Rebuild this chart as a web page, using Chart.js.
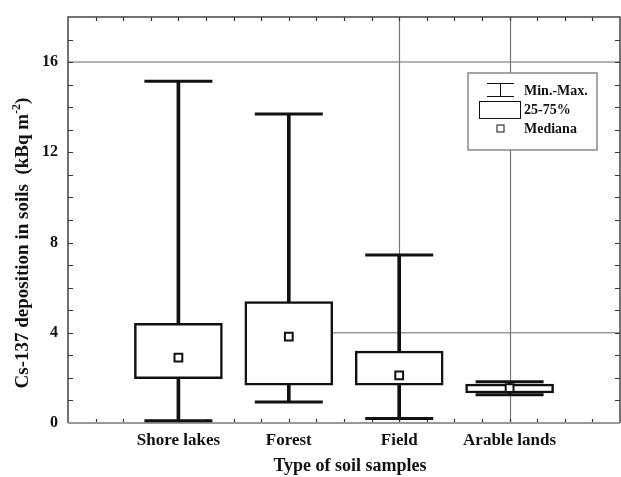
<!DOCTYPE html>
<html lang="en">
<head>
    <meta charset="UTF-8">
    <title>Cs-137 deposition in soils</title>
    <script src="https://cdn.jsdelivr.net/npm/chart.js"></script>
    <style>
        * { margin: 0; padding: 0; box-sizing: border-box; }
        html, body { width: 621px; height: 477px; background: #fff; overflow: hidden; }
        .chart-container { position: relative; width: 621px; height: 477px; }
    </style>
</head>
<body>
    <div class="chart-container">
        <canvas id="boxChart"></canvas>
    </div>

    <script>
        // data (kBq m-2)
        const categories = ['Shore lakes', 'Forest', 'Field', 'Arable lands'];
        const catPos = [1, 2, 3, 4];
        const minVals = [0.1, 0.93, 0.2, 1.25];
        const q1Vals = [1.97, 1.68, 1.68, 1.33];
        const medVals = [2.9, 3.83, 2.11, 1.55];
        const q3Vals = [4.42, 5.38, 3.19, 1.72];
        const maxVals = [15.15, 13.7, 7.45, 1.83];
        const yTickValues = [0, 4, 8, 12, 16];

        const serif = '"Liberation Serif", "Times New Roman", serif';
        const ink = '#111';

        // frame, inward ticks and the few grey guide lines
        const framePlugin = {
            id: 'frame',
            beforeDatasetsDraw(chart) {
                const { ctx, chartArea: a, scales: { x, y } } = chart;
                ctx.save();
                ctx.strokeStyle = '#9a9a9a';
                ctx.lineWidth = 1.5;
                ctx.beginPath();
                ctx.moveTo(a.left, y.getPixelForValue(16));
                ctx.lineTo(a.right, y.getPixelForValue(16));
                ctx.moveTo(x.getPixelForValue(2), y.getPixelForValue(4));
                ctx.lineTo(a.right, y.getPixelForValue(4));
                ctx.stroke();
                ctx.strokeStyle = '#777';
                ctx.lineWidth = 1.2;
                ctx.beginPath();
                [3, 4].forEach(v => {
                    const px = Math.round(x.getPixelForValue(v)) + 0.5;
                    ctx.moveTo(px, a.top);
                    ctx.lineTo(px, a.bottom);
                });
                ctx.stroke();

                // ticks
                ctx.strokeStyle = '#333';
                ctx.lineWidth = 1.2;
                ctx.beginPath();
                for (let v = 1; v < 18; v++) {
                    const py = Math.round(y.getPixelForValue(v)) + 0.5;
                    ctx.moveTo(a.left, py); ctx.lineTo(a.left + 5, py);
                    ctx.moveTo(a.right, py); ctx.lineTo(a.right - 5, py);
                }
                for (let v = 0.25; v < 5; v += 0.25) {
                    const px = Math.round(x.getPixelForValue(v)) + 0.5;
                    ctx.moveTo(px, a.top); ctx.lineTo(px, a.top + 4);
                    ctx.moveTo(px, a.bottom); ctx.lineTo(px, a.bottom - 4);
                }
                ctx.stroke();

                // border
                ctx.lineWidth = 1.5;
                ctx.strokeStyle = '#444';
                ctx.beginPath();
                ctx.moveTo(a.left, a.bottom);
                ctx.lineTo(a.left, a.top);
                ctx.lineTo(a.right, a.top);
                ctx.lineTo(a.right, a.bottom);
                ctx.stroke();
                ctx.strokeStyle = '#999';
                ctx.lineWidth = 2;
                ctx.beginPath();
                ctx.moveTo(a.left, a.bottom);
                ctx.lineTo(a.right, a.bottom);
                ctx.stroke();
                ctx.restore();
            },
            afterDraw(chart) {
                const { ctx } = chart;
                ctx.save();
                ctx.fillStyle = ink;

                // x title
                ctx.font = 'bold 18px ' + serif;
                ctx.textAlign = 'center';
                ctx.textBaseline = 'middle';
                ctx.fillText('Type of soil samples', 350, 466);

                // y title with superscript
                ctx.translate(23, 243);
                ctx.rotate(-Math.PI / 2);
                const main = 'Cs-137 deposition in soils  (kBq m';
                const sup = '-2';
                const close = ')';
                ctx.font = 'bold 19px ' + serif;
                const w1 = ctx.measureText(main).width;
                const w3 = ctx.measureText(close).width;
                ctx.font = 'bold 12px ' + serif;
                const w2 = ctx.measureText(sup).width;
                const sx = -(w1 + w2 + w3) / 2;
                ctx.textAlign = 'left';
                ctx.font = 'bold 19px ' + serif;
                ctx.fillText(main, sx, 0);
                ctx.font = 'bold 12px ' + serif;
                ctx.fillText(sup, sx + w1, -6);
                ctx.font = 'bold 19px ' + serif;
                ctx.fillText(close, sx + w1 + w2, 0);
                ctx.restore();

                // legend box
                ctx.save();
                ctx.fillStyle = '#fff';
                ctx.strokeStyle = '#888';
                ctx.lineWidth = 1.5;
                ctx.fillRect(468, 73, 129, 77);
                ctx.strokeRect(468, 73, 129, 77);

                ctx.strokeStyle = ink;
                ctx.lineWidth = 1;
                ctx.beginPath();
                ctx.moveTo(487, 83.5); ctx.lineTo(514, 83.5);
                ctx.moveTo(500.5, 83.5); ctx.lineTo(500.5, 96.5);
                ctx.moveTo(487, 96.5); ctx.lineTo(514, 96.5);
                ctx.stroke();
                ctx.strokeRect(479.5, 101.5, 41, 17);
                ctx.strokeRect(497, 125, 7, 7);

                ctx.fillStyle = ink;
                ctx.font = 'bold 14px ' + serif;
                ctx.textAlign = 'left';
                ctx.textBaseline = 'middle';
                ctx.fillText('Min.-Max.', 524, 91);
                ctx.fillText('25-75%', 524, 110);
                ctx.fillText('Mediana', 524, 129);
                ctx.restore();
            }
        };

        const capPoints = [];
        catPos.forEach((x, i) => {
            capPoints.push({ x: x, y: minVals[i] });
            capPoints.push({ x: x, y: maxVals[i] });
        });

        new Chart(document.getElementById('boxChart'), {
            type: 'bar',
            data: {
                datasets: [
                    {
                        type: 'bar',
                        label: 'Min.-Max.',
                        data: catPos.map((x, i) => ({ x: x, y: [minVals[i], maxVals[i]] })),
                        backgroundColor: ink,
                        barThickness: 3,
                        grouped: false,
                        order: 4
                    },
                    {
                        type: 'bar',
                        label: '25-75%',
                        data: catPos.map((x, i) => ({ x: x, y: [q1Vals[i], q3Vals[i]] })),
                        backgroundColor: '#fff',
                        borderColor: ink,
                        borderWidth: 2.5,
                        borderSkipped: false,
                        barThickness: 88,
                        grouped: false,
                        order: 3
                    },
                    {
                        type: 'scatter',
                        label: 'caps',
                        data: capPoints,
                        pointStyle: 'line',
                        pointRadius: 34,
                        pointHoverRadius: 34,
                        borderColor: ink,
                        pointBorderWidth: 3,
                        order: 2
                    },
                    {
                        type: 'scatter',
                        label: 'Mediana',
                        data: catPos.map((x, i) => ({ x: x, y: medVals[i] })),
                        pointStyle: 'rect',
                        pointRadius: 5.5,
                        pointBackgroundColor: '#fff',
                        pointBorderColor: ink,
                        pointBorderWidth: 2,
                        order: 1
                    }
                ]
            },
            options: {
                responsive: true,
                maintainAspectRatio: false,
                animation: false,
                layout: { autoPadding: false, padding: { top: 17, right: 1, left: 0, bottom: 0 } },
                plugins: { legend: { display: false }, tooltip: { enabled: false } },
                scales: {
                    x: {
                        type: 'linear',
                        min: 0,
                        max: 5,
                        offset: false,
                        grid: { display: false, drawTicks: false },
                        border: { display: false },
                        afterBuildTicks: s => { s.ticks = catPos.map(v => ({ value: v })); },
                        afterFit: s => {
                            s.height = 54;
                            s.paddingLeft = 0; s.paddingRight = 0;
                            s.paddingTop = 0; s.paddingBottom = 0;
                        },
                        ticks: {
                            padding: 7,
                            color: ink,
                            font: { family: serif, size: 17, weight: 'bold' },
                            maxRotation: 0,
                            callback: v => categories[catPos.indexOf(v)] || ''
                        }
                    },
                    y: {
                        min: 0,
                        max: 18,
                        grid: { display: false, drawTicks: false },
                        border: { display: false },
                        afterBuildTicks: s => { s.ticks = yTickValues.map(v => ({ value: v })); },
                        afterFit: s => {
                            s.width = 68;
                            s.paddingLeft = 0; s.paddingRight = 0;
                            s.paddingTop = 0; s.paddingBottom = 0;
                        },
                        ticks: {
                            padding: 10,
                            color: ink,
                            font: { family: serif, size: 16, weight: 'bold' }
                        }
                    }
                }
            },
            plugins: [framePlugin]
        });
    </script>
</body>
</html>
